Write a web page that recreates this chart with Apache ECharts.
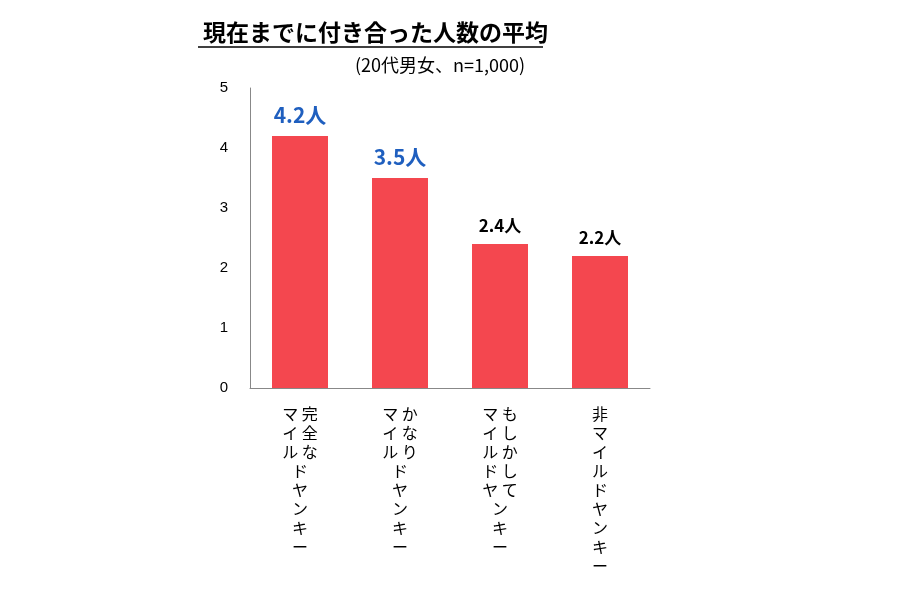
<!DOCTYPE html>
<html><head><meta charset="utf-8">
<script src="https://cdn.jsdelivr.net/npm/echarts@6/dist/echarts.min.js"></script>
<style>html,body{margin:0;background:#fff}#c{width:899px;height:600px}</style>
</head><body><div id="c"></div>
<script>
const catTop = ["完全な", "かなり", "もしかして", ""];
const catMain = ["マイルドヤンキー", "マイルドヤンキー", "マイルドヤンキー", "非マイルドヤンキー"];
const values = [4.2, 3.5, 2.4, 2.2];
const highlight = [true, true, false, false];
const yTicks = [0, 1, 2, 3, 4, 5];

function vertical(i) {
  const a = catMain[i].split(''), b = catTop[i].split('');
  const n = Math.max(a.length, b.length);
  const rows = [];
  for (let k = 0; k < n; k++) {
    const L = a[k] || '　', R = b[k] || '';
    rows.push(R ? L + ' ' + R : L);
  }
  return rows.join('\n');
}
const chart = echarts.init(document.getElementById('c'));
chart.setOption({
  animation: false,
  title: [
    {text: '現在までに付き合った人数の平均', left: 198, top: 16,
     textStyle: {fontSize: 23, fontWeight: 'bold', color: '#000', fontFamily: 'Noto Sans CJK JP'}},
    {text: '(20代男女、n=1,000)', left: 350, top: 51,
     textStyle: {fontSize: 18, fontWeight: 'normal', color: '#000', fontFamily: 'Noto Sans CJK JP'}}
  ],
  graphic: [{type: 'line', shape: {x1: 198, y1: 47, x2: 543, y2: 47}, style: {stroke: '#000', lineWidth: 1.5}}],
  grid: {left: 250, right: 249, top: 88, bottom: 212},
  xAxis: {type: 'category', data: catMain.map((_, i) => i),
    axisLine: {lineStyle: {color: '#888'}}, axisTick: {show: false},
    axisLabel: {interval: 0, formatter: (v) => vertical(+v), lineHeight: 19, margin: 16, verticalAlign: 'top',
      fontSize: 16, color: '#000', fontFamily: 'Noto Sans CJK JP', align: 'center'}},
  yAxis: {type: 'value', min: 0, max: 5, interval: 1,
    axisLine: {show: true, lineStyle: {color: '#888'}}, axisTick: {show: false}, splitLine: {show: false},
    axisLabel: {fontSize: 15, color: '#000', margin: 22, formatter: v => yTicks.includes(v) ? String(v) : ''}},
  series: [{type: 'bar', barWidth: 56,
    data: values.map((v, i) => ({value: v, label: {
      color: highlight[i] ? '#1f5fbf' : '#000', fontSize: highlight[i] ? 21 : 17}})),
    itemStyle: {color: '#f4474f'},
    label: {show: true, position: 'top', distance: 10, fontWeight: 'bold',
      fontFamily: 'Noto Sans CJK JP', formatter: p => p.value + '人'}}]
});
</script></body></html>
